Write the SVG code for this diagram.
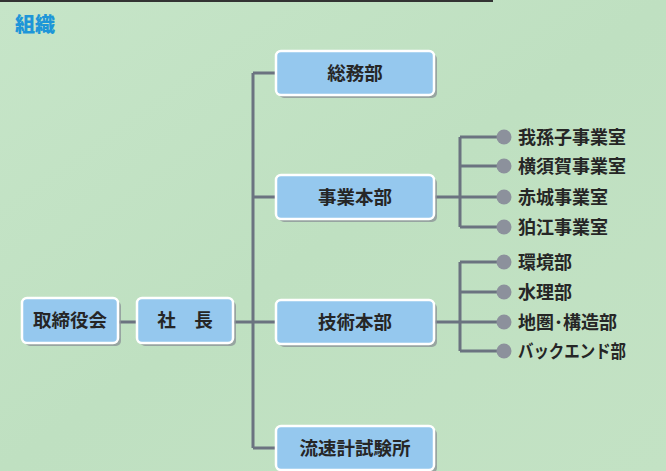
<svg xmlns="http://www.w3.org/2000/svg" width="666" height="471" viewBox="0 0 666 471">
<defs>
<linearGradient id="bg" x1="0" y1="0" x2="1" y2="1">
<stop offset="0" stop-color="#c6e5c8"/>
<stop offset="0.5" stop-color="#bfe0c1"/>
<stop offset="1" stop-color="#c3e2c4"/>
</linearGradient>
<style>
.box{fill:#95c8ee;stroke:#ffffff;stroke-width:2.5}
.sh{fill:#8a9096;opacity:0.75}
.bt{font-family:"Noto Sans CJK JP","Noto Sans",sans-serif;font-size:18.5px;font-weight:bold;fill:#262626;text-anchor:middle}
.lt{font-family:"Noto Sans CJK JP","Noto Sans",sans-serif;font-size:18px;font-weight:bold;fill:#262626}
.ln{fill:none;stroke:#6b7380;stroke-width:3}
.dot{fill:#8c919c}
</style>
</defs>
<rect width="666" height="471" fill="url(#bg)"/>
<line x1="0" y1="1" x2="493" y2="1" stroke="#333" stroke-width="2"/>
<text x="15" y="32" font-family="'Noto Sans CJK JP','Noto Sans',sans-serif" font-size="20" font-weight="900" fill="#1e96d8">組織</text>
<g id="connectors">
<path class="ln" d="M118 322H137M233 322H276M253 73V448M253 73H276M253 197H276M253 448H276"/>
<path class="ln" d="M434 197H460M460 137V227M460 137H504M460 166H504M460 197H504M460 227H504"/>
<path class="ln" d="M434 322H460M460 262V351M460 262H504M460 292H504M460 322H504M460 351H504"/>
</g>
<g id="torishimariyakukai">
<rect class="sh" x="25" y="301" width="96" height="45" rx="5"/>
<rect class="box" x="22" y="298" width="96" height="45" rx="5"/>
<text class="bt" x="70" y="327">取締役会</text>
</g>
<g id="shacho">
<rect class="sh" x="140" y="301" width="96" height="45" rx="5"/>
<rect class="box" x="137" y="298" width="96" height="45" rx="5"/>
<text class="bt" x="185" y="327" xml:space="preserve">社　長</text>
</g>
<g id="somubu">
<rect class="sh" x="279" y="54" width="158" height="44" rx="5"/>
<rect class="box" x="276" y="51" width="158" height="44" rx="5"/>
<text class="bt" x="355" y="80">総務部</text>
</g>
<g id="jigyohonbu">
<rect class="sh" x="279" y="178" width="158" height="44" rx="5"/>
<rect class="box" x="276" y="175" width="158" height="44" rx="5"/>
<text class="bt" x="355" y="204">事業本部</text>
</g>
<g id="gijutsuhonbu">
<rect class="sh" x="279" y="303" width="158" height="44" rx="5"/>
<rect class="box" x="276" y="300" width="158" height="44" rx="5"/>
<text class="bt" x="355" y="329">技術本部</text>
</g>
<g id="ryusokukei">
<rect class="sh" x="279" y="429" width="158" height="44" rx="5"/>
<rect class="box" x="276" y="426" width="158" height="44" rx="5"/>
<text class="bt" x="355" y="455">流速計試験所</text>
</g>
<g id="abiko"><circle class="dot" cx="504" cy="137" r="7.5"/><text class="lt" x="518" y="143.5">我孫子事業室</text></g>
<g id="yokosuka"><circle class="dot" cx="504" cy="166" r="7.5"/><text class="lt" x="518" y="172.5">横須賀事業室</text></g>
<g id="akagi"><circle class="dot" cx="504" cy="197" r="7.5"/><text class="lt" x="518" y="203.5">赤城事業室</text></g>
<g id="komae"><circle class="dot" cx="504" cy="227" r="7.5"/><text class="lt" x="518" y="233.5">狛江事業室</text></g>
<g id="kankyo"><circle class="dot" cx="504" cy="262" r="7.5"/><text class="lt" x="518" y="268.5">環境部</text></g>
<g id="suiri"><circle class="dot" cx="504" cy="292" r="7.5"/><text class="lt" x="518" y="298.5">水理部</text></g>
<g id="chiken"><circle class="dot" cx="504" cy="322" r="7.5"/><text class="lt" x="518" y="328.5">地圏･構造部</text></g>
<g id="backend"><circle class="dot" cx="504" cy="351" r="7.5"/><text class="lt" x="518" y="357.5" textLength="108" lengthAdjust="spacingAndGlyphs">バックエンド部</text></g>
</svg>
